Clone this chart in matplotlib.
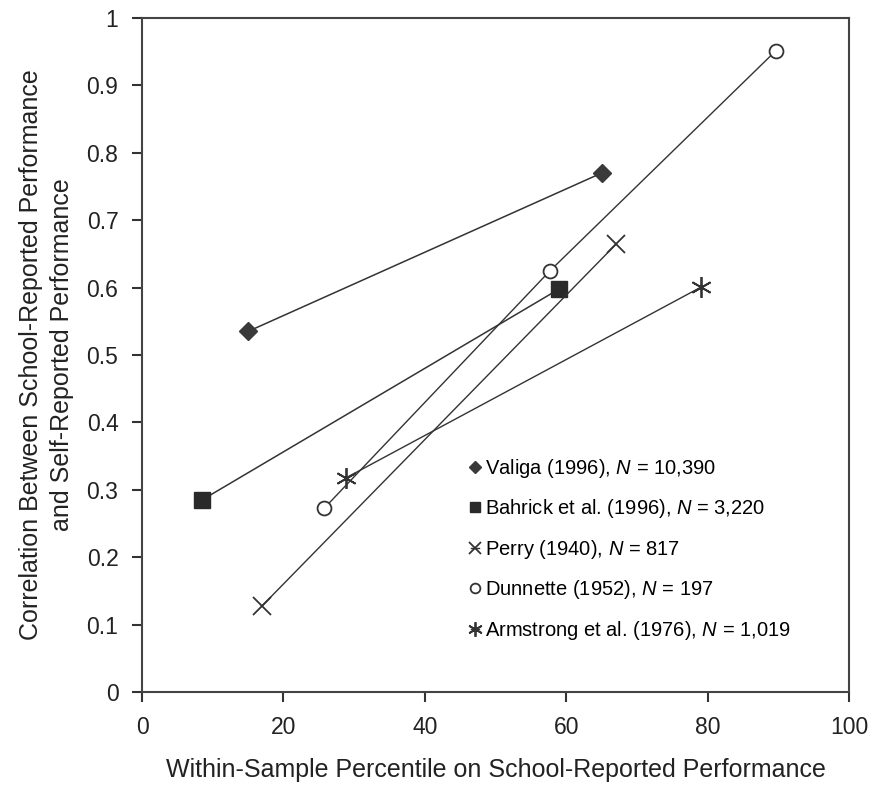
import matplotlib
matplotlib.use('Agg')
import matplotlib.pyplot as plt

plt.rcParams['font.family'] = ['Liberation Sans', 'DejaVu Sans']
plt.rcParams['mathtext.fontset'] = 'custom'
plt.rcParams['mathtext.it'] = 'Liberation Sans:italic'
plt.rcParams['mathtext.rm'] = 'Liberation Sans'

# dane (percentyl, korelacja)
valiga_x = [15, 65]
valiga_y = [0.535, 0.77]
bahrick_x = [8.5, 59]
bahrick_y = [0.285, 0.598]
perry_x = [17, 67]
perry_y = [0.128, 0.664]
dunnette_x = [25.8, 57.7, 89.6]
dunnette_y = [0.273, 0.625, 0.951]
armstrong_x = [28.9, 79.1]
armstrong_y = [0.318, 0.601]

etykiety = ['Valiga (1996), $N$ = 10,390',
            'Bahrick et al. (1996), $N$ = 3,220',
            'Perry (1940), $N$ = 817',
            'Dunnette (1952), $N$ = 197',
            'Armstrong et al. (1976), $N$ = 1,019']

x_ticki = [0, 20, 40, 60, 80, 100]
y_ticki = [0, 0.1, 0.2, 0.3, 0.4, 0.5, 0.6, 0.7, 0.8, 0.9, 1]

kolor = '#333333'
fig = plt.figure(figsize=(8.74, 7.91), dpi=100)
ax = fig.add_axes([0.1625, 0.1252, 0.809, 0.852])

ax.plot(valiga_x, valiga_y, color=kolor, lw=1.1, marker='D', ms=9,
        mfc='#3a3a3a', mec='#3a3a3a', label=etykiety[0])
ax.plot(bahrick_x, bahrick_y, color=kolor, lw=1.1, marker='s', ms=11,
        mfc='#2a2a2a', mec='#2a2a2a', label=etykiety[1])
ax.plot(perry_x, perry_y, color=kolor, lw=1.0, marker='x', ms=13, mew=1.3,
        mec=kolor, label=etykiety[2])
ax.plot(dunnette_x, dunnette_y, color=kolor, lw=1.0, marker='o', ms=10, mew=1.3,
        mfc='white', mec=kolor, label=etykiety[3])
ax.plot(armstrong_x, armstrong_y, color=kolor, lw=1.0, marker=(6, 2, 0), ms=15, mew=1.3,
        mec=kolor, label=etykiety[4])

ax.set_xlim(0, 100)
ax.set_ylim(0, 1)
ax.set_xticks(x_ticki)
ax.set_yticks(y_ticki)
ax.set_yticklabels(['%g' % v for v in y_ticki])
ax.tick_params(labelsize=16.5, length=7, width=1.5, color=kolor, labelcolor='#222222', pad=10)
for s in ax.spines.values():
    s.set_linewidth(1.5)
    s.set_color('#444444')

ax.set_xlabel('Within-Sample Percentile on School-Reported Performance',
              fontsize=18, color='#222222', labelpad=14)
ax.set_ylabel('Correlation Between School-Reported Performance\nand Self-Reported Performance',
              fontsize=18, color='#222222', labelpad=9, linespacing=1.35)

ax.legend(loc='upper left', bbox_to_anchor=(0.44, 0.376), frameon=False, fontsize=14.5,
          handlelength=0.4, handletextpad=0.3, labelspacing=0.87, markerscale=0.7)

plt.savefig('out.png', dpi=100)
